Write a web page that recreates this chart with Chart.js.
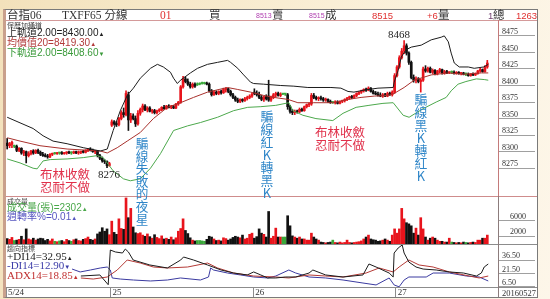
<!DOCTYPE html>
<html>
<head>
<meta charset="utf-8">
<script src="https://cdn.jsdelivr.net/npm/chart.js@4.4.1/dist/chart.umd.min.js"></script>
<style>
html, body { margin: 0; padding: 0; }
body { width: 550px; height: 299px; overflow: hidden; position: relative;
  background: linear-gradient(100deg, #f3e1bb 0%, #faefd6 55%, #fdf6e9 100%);
  font-family: "Liberation Sans", "Noto Sans CJK TC", sans-serif; }
#frame { position: absolute; left: 3px; top: 9px; width: 535px; height: 289px; box-sizing: border-box;
  background: #fff; border: 1px solid #7a7a7a; border-left: 3px solid #c9a08c; }
canvas { position: absolute; }
.ln { position: absolute; z-index: 2; }
.t { position: absolute; white-space: nowrap; line-height: 1; z-index: 3; }
.cjk { font-family: "Liberation Serif", "Noto Sans CJK TC", serif; }
.v { position: absolute; writing-mode: vertical-rl; text-orientation: upright; line-height: 1; z-index: 3;
  font-family: "Noto Sans CJK TC", sans-serif; color: #2f86c8; }
.tri { font-size: 6px; }
</style>
</head>
<body>
<div id="frame"></div>

<canvas id="priceChart" width="531" height="176" style="left:6px;top:20px"></canvas>
<canvas id="volChart" width="531" height="48" style="left:6px;top:196px"></canvas>
<canvas id="dmiChart" width="531" height="53" style="left:6px;top:244px"></canvas>

<!-- separators -->
<div class="ln" style="left:6px;top:20px;width:531px;height:1px;background:#d49a9a"></div>
<div class="ln" style="left:6px;top:196px;width:531px;height:1px;background:#cf8c8c"></div>
<div class="ln" style="left:6px;top:244px;width:531px;height:1px;background:#8c8c8c"></div>
<div class="ln" style="left:6px;top:287px;width:531px;height:1px;background:#8c8c8c"></div>
<div class="ln" style="left:498px;top:20px;width:1px;height:176px;background:#c47a7a"></div>
<div class="ln" style="left:498px;top:196px;width:1px;height:101px;background:#8c7c7c"></div>

<!-- header -->
<div class="t cjk" style="left:7px;top:9.5px;font-size:11.5px;color:#333">台指06</div>
<div class="t cjk" style="left:62px;top:9.5px;font-size:11.5px;color:#333">TXFF65 分線</div>
<div class="t cjk" style="left:160px;top:9.5px;font-size:11.5px;color:#e03030">01</div>
<div class="t cjk" style="left:209px;top:9.5px;font-size:11.5px;color:#333">買</div>
<div class="t" style="left:256px;top:12px;font-size:7px;color:#b040b0">8513</div>
<div class="t cjk" style="left:272px;top:9.5px;font-size:11.5px;color:#333">賣</div>
<div class="t" style="left:309px;top:12px;font-size:7px;color:#b040b0">8515</div>
<div class="t cjk" style="left:325px;top:9.5px;font-size:11.5px;color:#333">成</div>
<div class="t" style="left:372px;top:10.5px;font-size:9.5px;color:#e03030">8515</div>
<div class="t" style="left:427px;top:10.5px;font-size:9.5px;color:#e03030">+6</div>
<div class="t cjk" style="left:438px;top:9.5px;font-size:11.5px;color:#333">量</div>
<div class="t" style="left:488px;top:10.5px;font-size:9.5px;color:#704070">1</div>
<div class="t cjk" style="left:493px;top:9.5px;font-size:11.5px;color:#333">總</div>
<div class="t" style="left:516px;top:10.5px;font-size:9.5px;color:#e03030">1263</div>

<!-- price legend -->
<div class="t" style="left:7px;top:21.5px;font-size:7px;color:#444">保歷加通道</div>
<div class="t" style="left:7px;top:28px;font-size:10px;color:#222">上軌道2.00=8430.00<span class="tri">▲</span></div>
<div class="t" style="left:7px;top:37.5px;font-size:10px;color:#b23a3a">均價值20=8419.30<span class="tri">▲</span></div>
<div class="t" style="left:7px;top:47.5px;font-size:10px;color:#3a9a3a">下軌道2.00=8408.60<span class="tri">▼</span></div>

<!-- volume legend -->
<div class="t" style="left:7px;top:197.5px;font-size:7px;color:#444">成交量</div>
<div class="t" style="left:7px;top:203px;font-size:10px;color:#4aa84a">成交量(張)=2302<span class="tri">▲</span></div>
<div class="t" style="left:7px;top:211.5px;font-size:10px;color:#5656c0">週轉率%=0.01<span class="tri">▲</span></div>

<!-- DMI legend -->
<div class="t" style="left:7px;top:245px;font-size:7px;color:#444">趨向指標</div>
<div class="t cjk" style="left:7px;top:251px;font-size:11px;color:#222">+DI14=32.95<span class="tri">▲</span></div>
<div class="t cjk" style="left:7px;top:260px;font-size:11px;color:#3c3ca8">-DI14=12.90<span class="tri">▼</span></div>
<div class="t cjk" style="left:7px;top:269.5px;font-size:11px;color:#c03030">ADX14=18.85<span class="tri">▲</span></div>

<!-- annotations -->
<div class="t" style="left:40px;top:166.5px;font-size:12.5px;line-height:13px;color:#e0304a;font-family:'Noto Sans CJK TC'">布林收斂<br>忍耐不做</div>
<div class="t" style="left:315px;top:124.5px;font-size:12.5px;line-height:13px;color:#e0304a;font-family:'Noto Sans CJK TC'">布林收斂<br>忍耐不做</div>
<div class="t cjk" style="left:98px;top:168.5px;font-size:11px;color:#222">8276</div>
<div class="t cjk" style="left:388px;top:29px;font-size:11px;color:#222">8468</div>
<div class="v" style="left:135px;top:137px;font-size:12.6px">騙線失敗的夜星</div>
<div class="v" style="left:259.5px;top:110px;font-size:12.8px">騙線紅K轉黑K</div>
<div class="v" style="left:413.5px;top:93px;font-size:12.8px">騙線黑K轉紅K</div>
<div class="t cjk" style="left:502px;top:288.5px;font-size:8.5px;color:#333">20160527</div>

<script>
// 5-minute bars, 5/24 (part) .. 5/27
const opens = [
  8313,8309,8311,8308,8308,8302,8305,8298,8300,8294,
  8297,8301,8298,8302,8299,8296,8294,8293,8292,8296,
  8297,8297,8298,8298,8297,8298,8299,8298,8298,8300,
  8298,8299,8300,8299,8302,8304,8302,8300,8301,8294,
  8290,8286,8285,8279,
  8340,8345,8342,8341,8350,8359,8356,8386,8348,8354,
  8350,8342,8358,8364,8369,8363,8366,8361,8362,8359,
  8362,8363,8367,8365,8369,8367,8368,8366,8372,8375,
  8398,8410,8406,8402,8398,8402,8401,8402,8403,8403,
  8403,8402,8392,8386,8390,8388,8391,8389,8394,8395,
  8391,8386,8382,8378,8376,8379,8377,8380,8382,8384,
  8390,8388,8386,8382,8379,8383,8384,8378,8382,8386,
  8388,8385,8387,8387,8386,8368,8361,8359,8361,8360,
  8364,8362,8368,8371,8372,8385,8382,8380,8381,8380,
  8378,8379,8376,8374,8374,8375,8373,8376,8377,8379,
  8381,8383,8382,8385,8388,8390,8392,8394,8393,8396,
  8391,8388,8387,8385,8384,8386,8384,8388,8386,8390,
  8415,8428,8442,8452,8460,8449,8435,8412,8408,8410,
  8406,8408,8425,8422,8426,8420,8423,8418,8421,8424,
  8419,8421,8419,8420,8420,8418,8420,8418,8419,8417,
  8417,8415,8417,8416,8418,8422,8424,8421,8428
];
const highs = [
  8320,8314,8316,8310,8310,8306,8306,8302,8301,8300,
  8302,8303,8303,8304,8301,8299,8297,8296,8297,8298,
  8299,8299,8299,8300,8299,8300,8301,8300,8301,8301,
  8301,8301,8302,8303,8305,8306,8304,8302,8302,8296,
  8292,8288,8286,8284,
  8348,8347,8346,8352,8362,8366,8392,8390,8358,8357,
  8354,8362,8366,8372,8371,8368,8368,8364,8364,8363,
  8365,8368,8370,8370,8371,8370,8370,8373,8376,8400,
  8414,8413,8410,8405,8404,8404,8404,8404,8405,8405,
  8405,8404,8394,8392,8392,8392,8393,8396,8397,8396,
  8393,8388,8384,8381,8380,8380,8382,8384,8386,8388,
  8395,8392,8390,8385,8384,8386,8408,8384,8388,8390,
  8390,8389,8388,8388,8388,8370,8364,8363,8363,8366,
  8366,8369,8372,8374,8388,8388,8384,8383,8384,8382,
  8381,8380,8378,8376,8377,8377,8377,8378,8380,8382,
  8384,8385,8386,8389,8391,8393,8395,8396,8398,8397,
  8393,8391,8390,8389,8388,8388,8390,8390,8392,8418,
  8430,8445,8456,8468,8463,8451,8437,8416,8413,8412,
  8410,8428,8430,8428,8428,8425,8424,8423,8426,8425,
  8423,8423,8421,8422,8422,8421,8421,8420,8420,8419,
  8419,8418,8419,8419,8423,8426,8425,8430,8438
];
const lows = [
  8304,8306,8306,8306,8300,8300,8296,8294,8283,8292,
  8295,8296,8297,8297,8294,8293,8292,8290,8291,8294,
  8296,8296,8296,8296,8296,8296,8297,8296,8297,8297,
  8296,8297,8298,8298,8300,8301,8299,8297,8292,8288,
  8284,8282,8276,8278,
  8338,8340,8338,8339,8348,8352,8354,8332,8344,8348,
  8338,8340,8355,8360,8362,8360,8360,8358,8357,8357,
  8360,8362,8364,8364,8366,8365,8365,8365,8370,8373,
  8396,8404,8400,8396,8396,8397,8400,8401,8402,8402,
  8401,8390,8384,8385,8386,8386,8387,8388,8390,8389,
  8384,8380,8376,8374,8374,8375,8376,8378,8380,8382,
  8386,8384,8380,8377,8376,8378,8376,8376,8380,8383,
  8384,8383,8386,8385,8364,8358,8356,8356,8358,8359,
  8361,8361,8366,8368,8370,8380,8378,8377,8378,8376,
  8376,8374,8373,8373,8372,8372,8372,8374,8375,8377,
  8379,8380,8381,8383,8386,8388,8390,8391,8392,8390,
  8387,8386,8384,8383,8382,8383,8383,8385,8384,8388,
  8413,8426,8440,8448,8446,8432,8410,8405,8404,8404,
  8390,8406,8420,8420,8419,8418,8416,8416,8419,8417,
  8417,8418,8418,8418,8417,8417,8417,8416,8416,8415,
  8414,8414,8415,8415,8417,8420,8420,8420,8426
];
const closes = [
  8309,8312,8314,8308,8302,8305,8298,8300,8294,8297,
  8301,8298,8302,8299,8296,8294,8293,8292,8296,8297,
  8297,8298,8298,8297,8298,8299,8298,8298,8300,8298,
  8299,8300,8299,8302,8304,8302,8300,8301,8294,8290,
  8286,8285,8279,8282,
  8345,8342,8341,8350,8359,8356,8388,8348,8354,8350,
  8342,8358,8364,8369,8363,8366,8361,8362,8359,8362,
  8363,8367,8365,8369,8367,8368,8366,8372,8375,8398,
  8410,8406,8402,8398,8402,8399,8401,8402,8403,8403,
  8402,8392,8386,8390,8388,8391,8389,8394,8395,8391,
  8386,8382,8378,8376,8379,8377,8380,8382,8384,8387,
  8388,8386,8382,8379,8383,8380,8378,8382,8386,8388,
  8385,8387,8387,8387,8368,8361,8359,8361,8360,8364,
  8362,8368,8371,8372,8385,8382,8380,8381,8380,8378,
  8379,8376,8374,8374,8375,8373,8376,8377,8379,8381,
  8383,8382,8385,8388,8390,8392,8394,8393,8396,8391,
  8388,8387,8385,8384,8386,8384,8388,8386,8390,8415,
  8428,8442,8452,8460,8449,8435,8412,8408,8410,8406,
  8408,8425,8422,8426,8420,8423,8418,8421,8424,8419,
  8421,8419,8420,8420,8418,8420,8418,8419,8417,8417,
  8415,8417,8416,8418,8422,8424,8421,8428,8434
];
const volumes = [
  1400,1200,1700,900,1000,1200,2000,1100,3900,1300,
  1100,1500,1000,1300,1500,1400,900,1200,800,1300,
  700,600,800,900,600,1200,900,700,1100,1300,
  900,800,1200,1400,1800,1200,1000,1300,2600,3100,
  4200,3300,3900,2400,
  5900,3000,2500,6500,4000,3800,11900,6800,9200,4400,
  2900,2700,2900,2300,2000,2600,1900,1500,2400,1700,
  1400,2100,1300,1500,1200,1800,1100,1600,3300,4000,
  6500,3500,2700,1600,1000,800,900,900,800,700,
  1200,2000,1800,1300,900,1000,800,1600,1400,1000,
  1300,1700,2000,1800,1600,2300,1300,1500,2500,2800,
  1500,1900,3900,2800,2500,1800,8400,1500,2000,4100,
  1800,1800,1800,1800,7300,4700,2100,1800,1500,1800,
  1300,1300,1000,1000,2800,1800,1300,1000,500,400,
  300,400,500,1000,400,300,500,300,400,1000,
  400,300,400,500,600,800,1300,1800,2300,1300,
  1100,1000,700,800,1000,1300,1000,700,2300,3900,
  2800,3900,9200,6500,5500,5200,4700,2800,4100,2300,
  6800,3900,1800,1000,1500,1800,1500,1000,700,700,
  500,500,1500,500,400,300,400,300,500,400,
  300,400,500,400,1000,1000,1500,1500,2300
];

// Bollinger bands: [bar index, price]
const upperBand = [[0,8352],[10.9,8335],[15.1,8324],[19.3,8316],[25.2,8312],[32,8306],[39.2,8301],[42.1,8304],
  [44.6,8332],[47.6,8362],[50.5,8385],[53.1,8396],[56,8411],[60.3,8426],[63.2,8432],[65.7,8428],[68.7,8420],
  [70,8411],[71.6,8403],[72.9,8408],[77.1,8419],[80.1,8426],[84.3,8432],[88.5,8435],[92.7,8438],[94,8435],
  [97,8426],[99.5,8416],[102.4,8405],[103.7,8403],[107.9,8402],[115.1,8400],[120.6,8399],[126.5,8397],
  [136.2,8397],[140.4,8396],[143.4,8391],[145.9,8390],[150.1,8393],[156,8396],[162.4,8397],[162.8,8405],
  [164.5,8423],[165.8,8443],[167.8,8454],[170,8458],[174.2,8461],[178.4,8469],[182.6,8473],[183.9,8475],
  [185.6,8466],[186.8,8449],[188.1,8434],[190.2,8428],[194,8428],[196.5,8426],[200.5,8428],[202.4,8432]];
const midBand = [[0,8321],[5.4,8316],[13.8,8309],[25.2,8304],[39.2,8301],[42.1,8298],[46.3,8306],[50.5,8316],
  [56,8329],[61.5,8350],[67.4,8367],[72.9,8374],[78.4,8382],[84.3,8390],[92.7,8397],[97,8394],[102.4,8390],
  [107.9,8385],[112.2,8382],[118.1,8379],[122.3,8374],[129,8374],[137.5,8374],[143.4,8379],[148.9,8382],
  [154.4,8384],[160.3,8385],[162.8,8388],[167,8397],[171.2,8408],[178.4,8416],[185.6,8419],[192.3,8417],
  [199.5,8419],[202.4,8419]];
const lowerBand = [[0,8289],[5.4,8283],[10.9,8275],[12.6,8274],[15.1,8286],[18.1,8288],[25.2,8289],[32,8291],
  [37.9,8294],[40.4,8291],[44.6,8271],[48.9,8259],[51.8,8256],[56,8259],[60.3,8275],[64.5,8297],[70,8332],
  [75.9,8339],[81.3,8344],[88.5,8352],[95.3,8362],[101.2,8367],[106.7,8368],[113,8370],[118.5,8374],
  [120.2,8362],[124.4,8355],[129.9,8350],[137,8347],[141.3,8358],[146.8,8367],[152.2,8370],[158.1,8373],
  [162.4,8374],[166.6,8355],[169.1,8352],[175,8365],[180.5,8375],[184.7,8382],[186.8,8392],[189.7,8402],
  [193,8406],[197.4,8410],[200.7,8409],[202.4,8408]];

// DMI lines: [bar index, value]
const plusDI = [[31,18.8],[39,20],[42.5,9],[43.4,48.2],[45.5,46],[48.5,44.8],[49.7,49.3],[51,46],[53,36.9],
  [60,31.3],[67.4,27.9],[73,36.9],[74.2,40.3],[78.4,36.9],[84.3,31.3],[90,25.6],[95.3,22.2],[101,20],
  [103.7,23.4],[106.7,20],[109.6,16.6],[113,16.6],[117,17.7],[121.4,17.7],[127,22.2],[128.6,25.6],[134,20],
  [141.3,17.7],[149.7,20],[152.2,32.4],[155.2,29],[160.7,22.2],[162.4,17.7],[162.8,44.8],[164.5,50.5],
  [166.2,53.9],[167,44.8],[169,34.6],[172,29],[175,26.7],[180.5,25.6],[186,23.4],[192,22.2],[197.4,18.8],
  [199.5,22.2],[200.7,29],[202.4,32.4]];
const minusDI = [[27.3,26.7],[30.7,23.4],[35,25.6],[39.2,27.9],[42.1,29],[43.4,25.6],[44.2,16.6],[47.6,15.4],
  [53.1,14.3],[60.3,13.2],[67.4,14.3],[72.9,16.6],[81.3,14.3],[84.7,17.7],[85.6,27.9],[86.8,25.6],[92.7,22.2],
  [98.2,20],[103.7,17.7],[109.6,16.6],[113,18.8],[118.5,25.6],[121.4,22.2],[127,17.7],[134,16.6],[141.3,14.3],
  [149.7,10.9],[155.2,8.7],[160.7,16.6],[162.8,8.7],[164.9,6.6],[167,14.3],[169,17.7],[176.3,17.7],
  [179.2,22.2],[186,22.2],[193.2,18.8],[198.6,17.7],[202.4,13.2]];
const adx = [[31,16.6],[36.2,15.4],[42.1,17.7],[46.3,25.6],[50.5,36.9],[56,33.5],[61.5,29],[67.4,27.9],
  [75.9,29],[84.3,33.5],[88.5,27.9],[95.3,22.2],[103.7,18.8],[113,17.7],[118.5,16.6],[127,20],[134,18.8],
  [141.3,17.7],[151,22.2],[156.5,27.9],[162.4,23.4],[164.9,29],[169,36.9],[173.3,31.3],[179.2,29],[186,23.4],
  [194.4,18.8],[198.6,16.6],[202.4,18.8]];

// axis ticks
const priceTicks = [8475, 8450, 8425, 8400, 8375, 8350, 8325, 8300, 8275];
const volTicks = [6000, 2000];
const dmiTicks = [36.5, 21.5, 6.5];
const dayStarts = [-0.5, 43.5, 103.5, 163.5];
const dayLabels = ['5/24', '25', '26', '27'];

const RED = '#e8141c', BLACK = '#111111', GREEN = '#3aa83a';
const barIdx = closes.map(function(c, i) { return i; });
const candleColors = closes.map(function(c, i) {
  return c > opens[i] ? RED : (c < opens[i] ? BLACK : GREEN);
});
const pts = function(arr) { return arr.map(function(p) { return {x: p[0], y: p[1]}; }); };

Chart.defaults.font.family = 'Liberation Sans';

function xAxis() {
  return {type: 'linear', min: -0.5, max: 206.5, display: false, offset: false, grid: {offset: false}};
}

function rightAxis(min, max, tickValues, fmt, pad) {
  return {
    position: 'right', min: min, max: max,
    afterFit: function(s) { s.width = 39; },
    afterBuildTicks: function(s) { s.ticks = tickValues.map(function(v) { return {value: v}; }); },
    border: {display: false},
    grid: {drawOnChartArea: false, drawTicks: true, tickLength: 37, color: '#a0a0a0'},
    ticks: {padding: pad, labelOffset: -4, color: '#333', autoSkip: false,
      font: {family: 'Liberation Serif', size: 8}, callback: fmt}
  };
}

function lineSet(data, color) {
  return {type: 'line', data: pts(data), borderColor: color, borderWidth: 1, pointRadius: 0, tension: 0, fill: false};
}

const baseOptions = {
  responsive: false, animation: false, devicePixelRatio: 1,
  layout: {padding: 0},
  plugins: {legend: {display: false}, tooltip: {enabled: false}}
};

// price panel: bands + candles
new Chart(document.getElementById('priceChart').getContext('2d'), {
  type: 'bar',
  data: {
    datasets: [
      lineSet(upperBand, '#1c1c1c'),
      lineSet(midBand, '#a8302c'),
      lineSet(lowerBand, '#4ca84c'),
      {data: barIdx.map(function(i) { return {x: i, y: [opens[i], closes[i]]}; }),
        backgroundColor: candleColors, barThickness: 2, minBarLength: 1, grouped: false},
      {data: barIdx.map(function(i) { return {x: i, y: [lows[i], highs[i]]}; }),
        backgroundColor: candleColors, barThickness: 1, grouped: false}
    ]
  },
  options: Object.assign({}, baseOptions, {
    scales: {
      x: xAxis(),
      y: rightAxis(8233, 8499, priceTicks, function(v) { return String(v); }, -33)
    }
  })
});

// volume panel
new Chart(document.getElementById('volChart').getContext('2d'), {
  type: 'bar',
  data: {
    datasets: [{
      data: barIdx.map(function(i) { return {x: i, y: volumes[i]}; }),
      backgroundColor: candleColors, barThickness: 2
    }]
  },
  options: Object.assign({}, baseOptions, {
    scales: {
      x: xAxis(),
      y: rightAxis(0, 12400, volTicks, function(v) { return String(v); }, -25)
    }
  })
});

// DMI panel with the date row
new Chart(document.getElementById('dmiChart').getContext('2d'), {
  type: 'line',
  data: {
    datasets: [
      lineSet(plusDI, '#1c1c1c'),
      lineSet(adx, '#b43a36'),
      lineSet(minusDI, '#3a3aa0')
    ]
  },
  options: Object.assign({}, baseOptions, {
    scales: {
      x: {
        type: 'linear', min: -0.5, max: 206.5, offset: false, position: 'bottom',
        afterBuildTicks: function(s) { s.ticks = dayStarts.map(function(v) { return {value: v}; }); },
        afterFit: function(s) { s.height = 10; },
        border: {display: false},
        grid: {drawOnChartArea: false, drawTicks: true, tickLength: 10, color: '#8c8c8c'},
        ticks: {autoSkip: false, maxRotation: 0, align: 'start', padding: -10, labelOffset: 2,
          color: '#333', font: {family: 'Liberation Serif', size: 9},
          callback: function(v, i) { return dayLabels[i]; }}
      },
      y: rightAxis(6.4, 55, dmiTicks, function(v) { return v.toFixed(2); }, -33)
    }
  })
});
</script>
</body>
</html>
